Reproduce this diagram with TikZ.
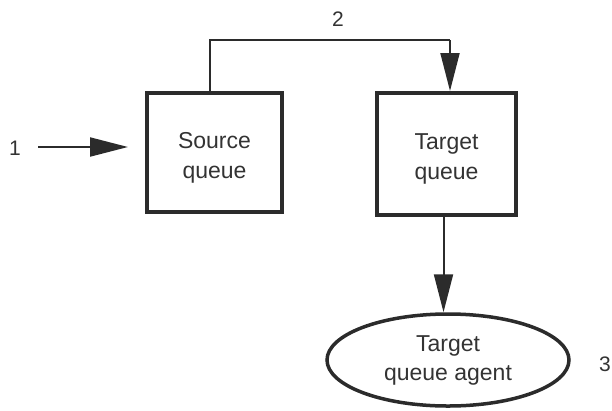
\documentclass[tikz,border=0pt]{standalone}
\usepackage{fontspec}
\setmainfont{Liberation Sans}
\usetikzlibrary{arrows.meta,shapes.geometric}
\definecolor{ink}{HTML}{2B2B2B}
\definecolor{txt}{HTML}{333333}
\begin{document}
\begin{tikzpicture}[x=1pt,y=-1pt,
  queuebox/.style={draw=ink,line width=4pt,rectangle,inner sep=0pt},
  boxtext/.style={font=\fontsize{23}{30}\selectfont,text=txt,align=center,
    inner sep=0pt,yshift=-5pt},
  agentshape/.style={draw=ink,line width=3.5pt,ellipse,inner sep=0pt,
    minimum width=242pt,minimum height=92pt,
    font=\fontsize{23}{29}\selectfont,text=txt,align=center},
  numlabel/.style={font=\fontsize{21}{25}\selectfont,text=txt,inner sep=0pt},
  flow/.style={draw=ink,line width=2pt,
    -{Triangle[length=38pt,width=19pt]}},
  plainline/.style={draw=ink,line width=2pt}]
\useasboundingbox (0,0) rectangle (612,410);

% queues and agent
\node[queuebox,minimum width=135pt,minimum height=119pt,
  label={[boxtext]center:Source\\queue}] (src) at (214.5,152.5) {};
\node[queuebox,minimum width=139pt,minimum height=122pt,
  label={[boxtext]center:Target\\queue}] (tgt) at (446.5,154) {};
\node[agentshape] (agent) at (448,360) {Target\\queue agent};

% step numbers
\node[numlabel] (n1) at (15,148) {1};
\node[numlabel] (n2) at (338,19) {2};
\node[numlabel] (n3) at (605,364) {3};

% 1: message arrives at the source queue
\coordinate (in) at (38,147);
\draw[flow] (in) -- ([xshift=-17pt]src.west |- in);

% 2: transfer from source to target queue
\coordinate (bendA) at (210,40);
\coordinate (bendB) at (450,40);
\draw[plainline] (bendA |- src.north) -- (bendA) -- (bendB);
\draw[flow] (bendB) -- (bendB |- tgt.north);

% 3: target queue hands over to the agent
\draw[flow] ([xshift=-3pt]tgt.south) -- ([xshift=-3pt]tgt.south |- agent.north);
\end{tikzpicture}
\end{document}
